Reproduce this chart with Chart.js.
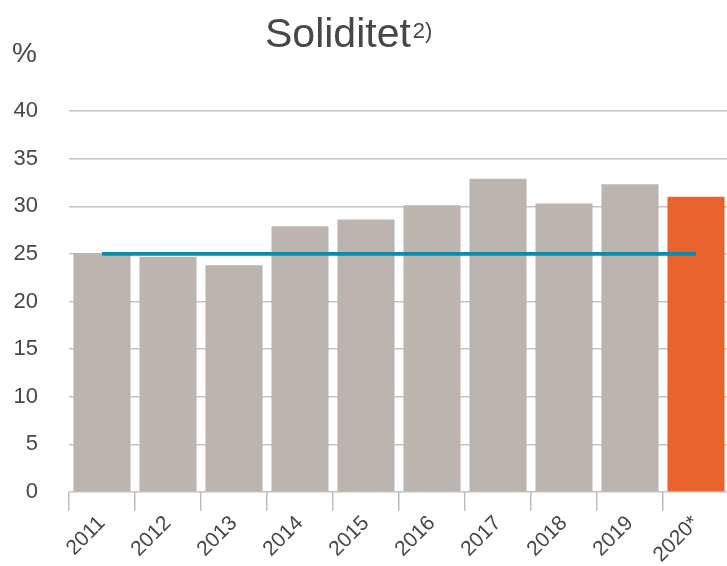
<!DOCTYPE html>
<html>
<head>
<meta charset="utf-8">
<script src="https://cdn.jsdelivr.net/npm/chart.js@4/dist/chart.umd.min.js"></script>
<style>
  html, body { margin: 0; padding: 0; background: #fff; overflow: hidden; }
  #wrap { width: 729px; height: 566px; }
</style>
</head>
<body>
<div id="wrap"><canvas id="soliditet"></canvas></div>
<script>
const years = ['2011', '2012', '2013', '2014', '2015', '2016', '2017', '2018', '2019', '2020*'];
const soliditet = [25.1, 24.7, 23.8, 27.9, 28.6, 30.1, 32.9, 30.3, 32.3, 31.0];
const target = [25, 25, 25, 25, 25, 25, 25, 25, 25, 25];
const yTicks = [0, 5, 10, 15, 20, 25, 30, 35, 40];

const grey = '#bcb4ae';
const orange = '#e8632d';
const textColor = '#474747';
const font = '"Liberation Sans", Arial, Helvetica, sans-serif';

// title with superscript, and the % unit label
const titlePlugin = {
    id: 'titlePlugin',
    afterDraw(chart) {
        let ctx = chart.ctx;
        ctx.save();
        ctx.fillStyle = textColor;
        ctx.textBaseline = 'alphabetic';
        ctx.textAlign = 'left';
        ctx.font = '41px ' + font;
        let main = 'Soliditet';
        let w1 = ctx.measureText(main).width;
        let x = 265;
        ctx.fillText(main, x, 47);
        ctx.font = '22px ' + font;
        ctx.fillText('2)', x + w1 + 2, 38);
        ctx.font = '28px ' + font;
        ctx.fillText('%', 12, 62);
        ctx.restore();
    }
};

let canvas = document.getElementById('soliditet').getContext('2d');
let chart = new Chart(canvas, {
    data: {
        labels: years,
        datasets: [{
            type: 'line',
            label: 'Mål',
            data: target,
            borderColor: '#0f8aab',
            borderWidth: 3.8,
            pointRadius: 0,
            tension: 0,
            order: 0,
        }, {
            type: 'bar',
            label: 'Soliditet',
            data: soliditet,
            backgroundColor: years.map((y, i) => i === years.length - 1 ? orange : grey),
            barPercentage: 0.865,
            categoryPercentage: 1.0,
            order: 1,
        }],
    },
    options: {
        responsive: true,
        maintainAspectRatio: false,
        animation: false,
        events: [],
        layout: { padding: { top: 111, right: 0, left: 0, bottom: 0 } },
        plugins: {
            legend: { display: false },
            tooltip: { enabled: false },
            title: { display: false },
        },
        scales: {
            x: {
                grid: {
                    offset: true,
                    drawOnChartArea: false,
                    drawTicks: true,
                    tickLength: 19,
                    color: '#c4bcb6',
                    lineWidth: 1.5,
                },
                border: { display: false },
                ticks: {
                    color: textColor,
                    font: { family: font, size: 21 },
                    minRotation: 45,
                    maxRotation: 45,
                    padding: 0,
                },
                afterFit(scale) { scale.height = 74; },
            },
            y: {
                min: 0,
                max: 40,
                afterBuildTicks(scale) { scale.ticks = yTicks.map(v => ({ value: v })); },
                grid: {
                    drawTicks: false,
                    color: '#c9c1bc',
                    lineWidth: 1.5,
                },
                border: { display: false },
                ticks: {
                    color: textColor,
                    font: { family: font, size: 22 },
                    padding: 31,
                },
                afterFit(scale) { scale.width = 69; },
            },
        },
    },
    plugins: [titlePlugin],
});
</script>
</body>
</html>
